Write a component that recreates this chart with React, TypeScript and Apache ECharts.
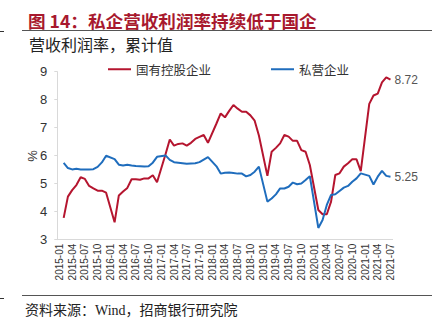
import React, { useEffect, useRef } from "react";
import * as echarts from "echarts";

const months: string[] = [
  "2015-01","2015-02","2015-03","2015-04","2015-05","2015-06","2015-07","2015-08","2015-09","2015-10","2015-11","2015-12",
  "2016-01","2016-02","2016-03","2016-04","2016-05","2016-06","2016-07","2016-08","2016-09","2016-10","2016-11","2016-12",
  "2017-01","2017-02","2017-03","2017-04","2017-05","2017-06","2017-07","2017-08","2017-09","2017-10","2017-11","2017-12",
  "2018-01","2018-02","2018-03","2018-04","2018-05","2018-06","2018-07","2018-08","2018-09","2018-10","2018-11","2018-12",
  "2019-01","2019-02","2019-03","2019-04","2019-05","2019-06","2019-07","2019-08","2019-09","2019-10","2019-11","2019-12",
  "2020-01","2020-02","2020-03","2020-04","2020-05","2020-06","2020-07","2020-08","2020-09","2020-10","2020-11","2020-12",
  "2021-01","2021-02","2021-03","2021-04","2021-05","2021-06","2021-07",
];

// 国有控股企业 营收利润率（累计值，%）
const stateOwned: (number | null)[] = [
  null, 3.78, 4.54, 4.77, 4.95, 5.23, 5.17, 4.92, 4.83, 4.75, 4.75, 4.68,
  null, 3.62, 4.58, 4.72, 4.85, 5.16, 5.16, 5.14, 5.19, 5.19, 5.3, 5.05,
  null, 6.05, 6.58, 6.36, 6.42, 6.44, 6.36, 6.46, 6.6, 6.67, 6.74, 6.46,
  null, 7.15, 7.51, 7.37, 7.6, 7.81, 7.68, 7.57, 7.57, 7.44, 7.25, 6.72,
  null, 5.28, 6.14, 6.28, 6.44, 6.74, 6.68, 6.53, 6.53, 6.2, 6.14, 5.67,
  null, 4.06, 3.91, 3.91, 4.36, 5.31, 5.37, 5.61, 5.73, 5.87, 5.87, 5.45,
  null, 7.85, 8.15, 8.22, 8.62, 8.8, 8.72,
];

// 私营企业 营收利润率（累计值，%）
const privateEnt: (number | null)[] = [
  null, 5.74, 5.56, 5.51, 5.53, 5.51, 5.51, 5.51, 5.52, 5.6, 5.76, 6.0,
  null, 5.88, 5.68, 5.65, 5.68, 5.65, 5.63, 5.62, 5.61, 5.62, 5.75, 5.96,
  null, 6.01, 5.85, 5.77, 5.75, 5.73, 5.71, 5.72, 5.73, 5.77, 5.86, 5.95,
  null, 5.62, 5.36, 5.39, 5.4, 5.38, 5.36, 5.36, 5.26, 5.31, 5.43, 5.61,
  null, 4.36, 4.47, 4.62, 4.83, 4.83, 4.89, 5.04, 4.98, 5.01, 5.13, 5.27,
  null, 3.42, 3.7, 4.24, 4.6, 4.62, 4.74, 4.86, 4.92, 5.07, 5.19, 5.37,
  null, 5.28, 4.97, 5.25, 5.46, 5.28, 5.25,
];

const seriesNames = ["国有控股企业", "私营企业"];
const yTicks = [3, 4, 5, 6, 7, 8, 9];

const RED = "#b5152f";
const BLUE = "#1f6dbd";
const CJK = "'Noto Sans CJK SC', sans-serif";
const NUM = "'Liberation Sans', Arial, sans-serif";

export default function App() {
  const ref = useRef<HTMLDivElement>(null);
  useEffect(() => {
    if (!ref.current) return;
    const chart = echarts.init(ref.current, undefined, { renderer: "svg" });
    chart.setOption({
      animation: false,
      backgroundColor: "#ffffff",
      title: {
        text: "图 14：私企营收利润率持续低于国企",
        left: 23,
        top: 7,
        textStyle: { color: "#a8192e", fontSize: 17.6, fontWeight: "bold", fontFamily: CJK },
      },
      legend: {
        data: seriesNames,
        left: 103,
        top: 58,
        icon: "rect",
        itemWidth: 23,
        itemHeight: 2,
        itemGap: 60,
        textStyle: { color: "#333", fontSize: 12.5, fontFamily: CJK },
      },
      graphic: [
        { type: "line", shape: { x1: 22, y1: 30.5, x2: 432, y2: 30.5 }, style: { stroke: "#555", lineWidth: 1 } },
        { type: "line", shape: { x1: 0, y1: 31.5, x2: 4, y2: 31.5 }, style: { stroke: "#333", lineWidth: 1 } },
        {
          type: "text",
          x: 29,
          y: 44,
          style: { text: "营收利润率，累计值", fill: "#222", fontSize: 16, fontFamily: CJK, verticalAlign: "middle" },
        },
        {
          type: "text",
          x: 32,
          y: 156,
          rotation: Math.PI / 2,
          style: { text: "%", fill: "#333", fontSize: 13, fontFamily: NUM, align: "center", verticalAlign: "middle" },
        },
        { type: "line", shape: { x1: 22, y1: 295.5, x2: 432, y2: 295.5 }, style: { stroke: "#555", lineWidth: 1 } },
        { type: "line", shape: { x1: 0, y1: 298.5, x2: 4, y2: 298.5 }, style: { stroke: "#333", lineWidth: 1 } },
        {
          type: "text",
          x: 25,
          y: 310,
          style: { text: "资料来源：Wind，招商银行研究院", fill: "#222", fontSize: 14, fontFamily: "'Liberation Serif', " + CJK, verticalAlign: "middle" },
        },
      ],
      grid: { left: 57.3, right: 55.4, top: 71.7, bottom: 82.3, containLabel: false },
      xAxis: {
        type: "category",
        data: months,
        boundaryGap: true,
        axisLine: { lineStyle: { color: "#d9d9d9" } },
        axisTick: { interval: 2, length: 4, lineStyle: { color: "#d9d9d9" } },
        axisLabel: { interval: 2, rotate: 90, fontSize: 10, color: "#333", fontFamily: NUM, margin: 4 },
        splitLine: { show: false },
      },
      yAxis: {
        type: "value",
        min: yTicks[0],
        max: yTicks[yTicks.length - 1],
        interval: 1,
        axisLine: { show: true, lineStyle: { color: "#d9d9d9" } },
        axisTick: { show: true, length: 3, lineStyle: { color: "#d9d9d9" } },
        axisLabel: { fontSize: 13, color: "#333", fontFamily: NUM, margin: 10 },
        splitLine: { show: false },
      },
      series: [
        {
          name: seriesNames[0],
          type: "line",
          data: stateOwned,
          connectNulls: true,
          showSymbol: false,
          symbol: "none",
          lineStyle: { color: RED, width: 2 },
          itemStyle: { color: RED },
          endLabel: {
            show: true,
            distance: 4,
            color: "#555",
            fontSize: 12,
            fontFamily: NUM,
            formatter: (p: any) => Number(p.value).toFixed(2),
          },
        },
        {
          name: seriesNames[1],
          type: "line",
          data: privateEnt,
          connectNulls: true,
          showSymbol: false,
          symbol: "none",
          lineStyle: { color: BLUE, width: 2 },
          itemStyle: { color: BLUE },
          endLabel: {
            show: true,
            distance: 4,
            color: "#555",
            fontSize: 12,
            fontFamily: NUM,
            formatter: (p: any) => Number(p.value).toFixed(2),
          },
        },
      ],
    });
    return () => chart.dispose();
  }, []);
  return <div ref={ref} style={{ position: "fixed", left: 0, top: 0, width: 448, height: 322 }} />;
}
